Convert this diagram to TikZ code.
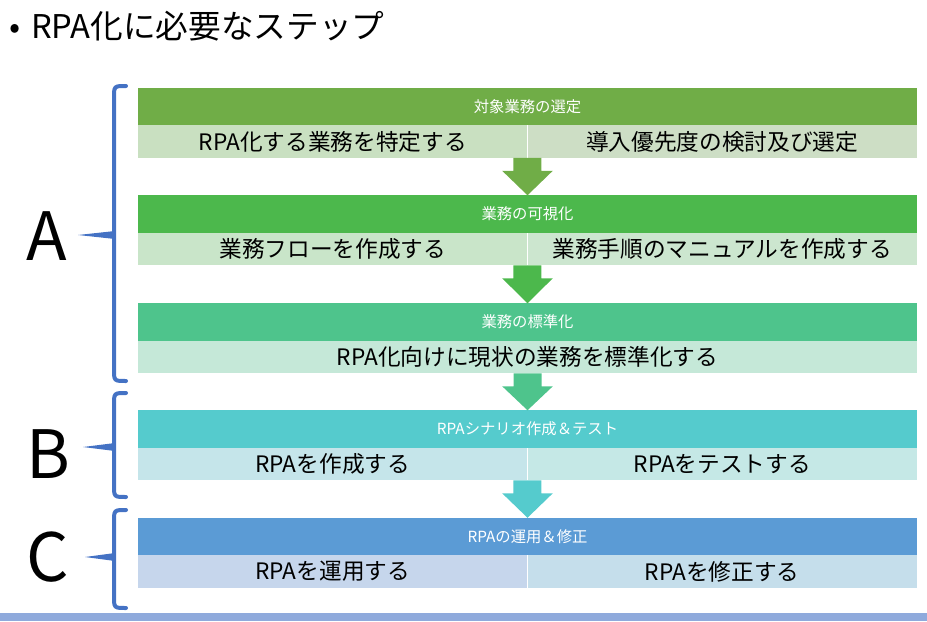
\documentclass[tikz,border=0pt]{standalone}
\usepackage{fontspec}
\setmainfont{Noto Sans CJK JP}
\usetikzlibrary{calc}
\definecolor{hdone}{HTML}{70AD47}
\definecolor{hdtwo}{HTML}{4CB84C}
\definecolor{hdthree}{HTML}{4EC48C}
\definecolor{hdfour}{HTML}{55CBCD}
\definecolor{hdfive}{HTML}{5B9BD5}
\definecolor{subonel}{HTML}{C9E0C1}
\definecolor{suboner}{HTML}{CDDEC5}
\definecolor{subtwol}{HTML}{C9E5C9}
\definecolor{subtwor}{HTML}{CCE6CF}
\definecolor{subthree}{HTML}{C5E8D8}
\definecolor{subfourl}{HTML}{C5E5EA}
\definecolor{subfourr}{HTML}{C5E8E6}
\definecolor{subfivel}{HTML}{C6D6EC}
\definecolor{subfiver}{HTML}{C5DEEB}
\definecolor{bracecol}{HTML}{4472C4}
\definecolor{barcol}{HTML}{8FAADC}
\tikzset{
    header/.style={rectangle, inner sep=0, outer sep=0, minimum width=584.25pt,
        minimum height=28.1pt, text=white, font=\fontsize{11.5}{14}\selectfont},
    halfsub/.style={rectangle, inner sep=0, outer sep=0, minimum width=292.1pt,
        minimum height=24.4pt, font=\fontsize{17}{20}\selectfont},
    fullsub/.style={halfsub, minimum width=584.25pt},
    letter/.style={font=\fontsize{50}{60}\selectfont, inner sep=0},
    bracket/.style={draw=bracecol, line width=3pt, line cap=round},
    blockarrow/.style={to path={let \p1=(\tikztostart), \p2=(\tikztotarget) in
        (\x1-10.5pt,\y1) -- (\x1+10.5pt,\y1) -- (\x1+10.5pt,\y1-9.75pt)
        -- (\x1+19pt,\y1-9.75pt) -- (\x2,\y2) -- (\x1-19pt,\y1-9.75pt)
        -- (\x1-10.5pt,\y1-9.75pt) -- cycle}}
}

\begin{document}
\begin{tikzpicture}[x=0.75pt, y=-0.75pt]
	\useasboundingbox (0,0) rectangle (927,621);
	\node (title) [anchor=west, inner sep=0, font=\fontsize{24.5}{28}\selectfont] at (9,26) {•\hspace{8pt}RPA化に必要なステップ};
	
	% step bands
	\node (h1) [header, fill=hdone] at (527.5,106.5) {対象業務の選定};
	\node (s1l) [halfsub, fill=subonel, anchor=north west] at (h1.south west) {RPA化する業務を特定する};
	\node (s1r) [halfsub, fill=suboner, anchor=north east] at (h1.south east) {導入優先度の検討及び選定};
	
	\node (h2) [header, fill=hdtwo] at (527.5,214) {業務の可視化};
	\node (s2l) [halfsub, fill=subtwol, anchor=north west] at (h2.south west) {業務フローを作成する};
	\node (s2r) [halfsub, fill=subtwor, anchor=north east] at (h2.south east) {業務手順のマニュアルを作成する};
	
	\node (h3) [header, fill=hdthree] at (527.5,322) {業務の標準化};
	\node (s3) [fullsub, fill=subthree, anchor=north] at (h3.south) {RPA化向けに現状の業務を標準化する};
	
	\node (h4) [header, fill=hdfour] at (527.5,429) {RPAシナリオ作成＆テスト};
	\node (s4l) [halfsub, fill=subfourl, anchor=north west] at (h4.south west) {RPAを作成する};
	\node (s4r) [halfsub, fill=subfourr, anchor=north east] at (h4.south east) {RPAをテストする};
	
	\node (h5) [header, fill=hdfive] at (527.5,536.5) {RPAの運用＆修正};
	\node (s5l) [halfsub, fill=subfivel, anchor=north west] at (h5.south west) {RPAを運用する};
	\node (s5r) [halfsub, fill=subfiver, anchor=north east] at (h5.south east) {RPAを修正する};
	
	% arrows between bands
	\fill[hdone] (s1l.south east) to[blockarrow] (h2.north);
	\fill[hdtwo] (s2l.south east) to[blockarrow] (h3.north);
	\fill[hdthree] (s3.south) to[blockarrow] (h4.north);
	\fill[hdfour] (s4l.south east) to[blockarrow] (h5.north);
	
	% braces and letters
	\node (la) [letter] at (47,236) {A};
	\node (lb) [letter] at (48,454) {B};
	\node (lc) [letter] at (48,557) {C};
	\draw[bracket] (126,86) .. controls (114,86) .. (114,98) -- (114,369) .. controls (114,381) .. (126,381);
	\fill[bracecol] (115,231) -- (78,235) -- (115,239) -- cycle;
	\draw[bracket] (126,393) .. controls (114,393) .. (114,405) -- (114,485) .. controls (114,497) .. (126,497);
	\fill[bracecol] (115,443) -- (83,447) -- (115,451) -- cycle;
	\draw[bracket] (126,510) .. controls (114,510) .. (114,522) -- (114,596) .. controls (114,608) .. (126,608);
	\fill[bracecol] (115,553) -- (85,557) -- (115,561) -- cycle;
	
	\fill[barcol] (0,613) rectangle (927,621);
\end{tikzpicture}
\end{document}
